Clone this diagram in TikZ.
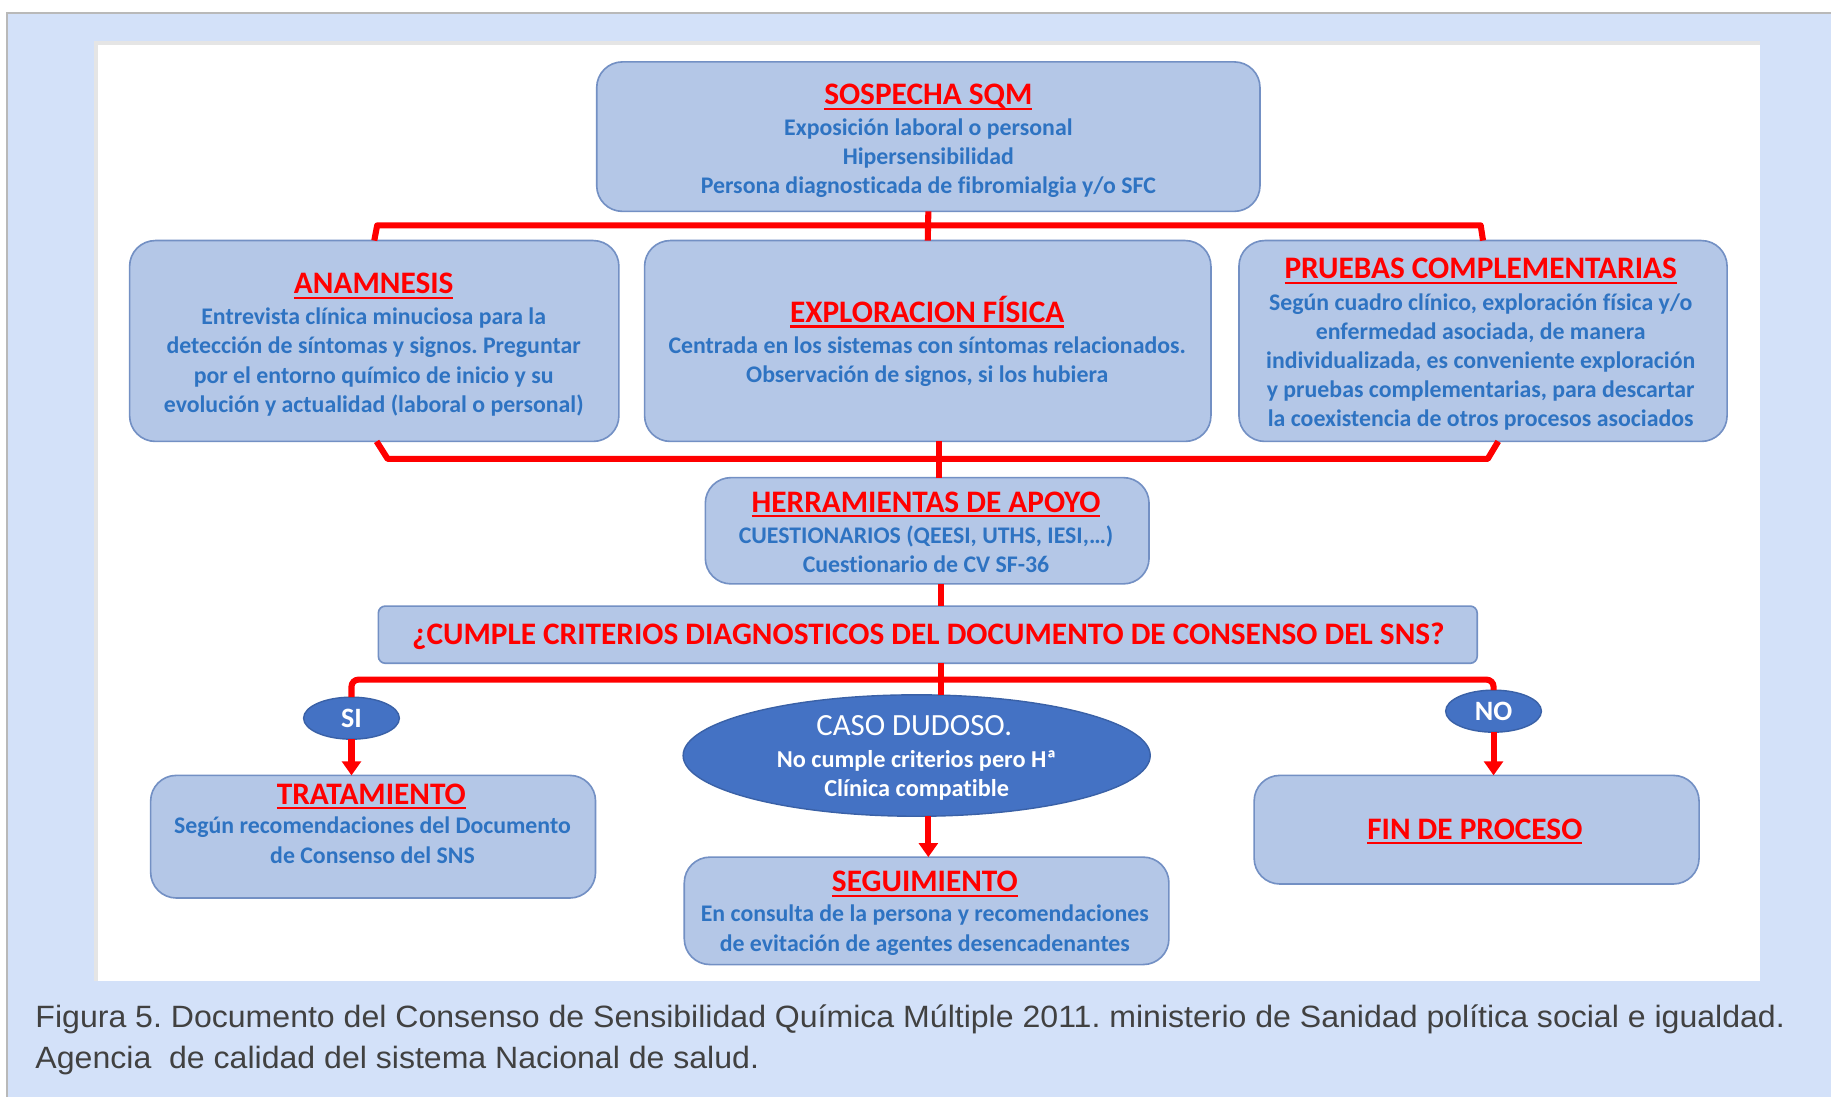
\documentclass[tikz,border=0pt]{standalone}
\usepackage{graphicx}
\usepackage{fontspec}
\setmainfont{Carlito}[Ligatures=NoCommon]
\newfontfamily\capfont{Liberation Sans}
\usetikzlibrary{arrows.meta,shapes.geometric,fit,calc}
\definecolor{bgblue}{HTML}{D3E1F9}
\definecolor{boxfill}{HTML}{B4C7E7}
\definecolor{boxedge}{HTML}{7390C4}
\definecolor{bodyblue}{HTML}{2E73C2}
\definecolor{ttlred}{HTML}{FF0000}
\definecolor{ellfill}{HTML}{4472C4}
\definecolor{capgray}{HTML}{414141}
\frenchspacing
\newcommand\myul[1]{\setbox0\hbox{#1}\rlap{\rule[-2.2pt]{\wd0}{0.9pt}}\box0}
\tikzset{
 box/.style={draw=boxedge, fill=boxfill, line width=0.7pt, rounded corners=11pt, inner sep=0pt, outer sep=0pt},
 ell/.style={ellipse, draw=ellfill!85!black, fill=ellfill, line width=0.6pt, inner sep=0pt, outer sep=0pt},
 ttl/.style={text=ttlred, font=\fontsize{13.4}{15}\selectfont\bfseries, inner sep=0pt},
 body/.style={text=bodyblue, font=\fontsize{10.2}{12.5}\selectfont\bfseries, align=center, inner sep=0pt},
 wtxt/.style={text=white, inner sep=0pt, align=center},
 conn/.style={draw=ttlred, line width=2.6pt},
 arr/.style={conn, -{Triangle[width=8pt,length=6pt]}},
 captxt/.style={text=capgray, font=\capfont\fontsize{13.2}{17.5}\selectfont, anchor=base west, inner sep=0pt},
}
\begin{document}
\begin{tikzpicture}[x=0.5pt,y=-0.5pt]
\useasboundingbox (0,0) rectangle (1568,939);
\fill[white] (0,0) rectangle (1568,939);
\fill[bgblue] (6,11) rectangle (1568,939);
\draw[gray!55, line width=0.8pt] (6,939) -- (6,11) -- (1568,11);
\fill[white] (82,37) rectangle (1507,840);
\draw[gray!20, line width=1.5pt] (82,840) -- (82,37) -- (1507,37);

% boxes
\node[box, fit={(511,53) (1079,181)}] (sos) {};
\node[box, fit={(111,206) (530,378)}] (anam) {};
\node[box, fit={(552,206) (1037,378)}] (expl) {};
\node[box, fit={(1061,206) (1479,378)}] (prue) {};
\node[box, fit={(604,409) (984,500)}] (herr) {};
\node[box, rounded corners=3pt, fit={(324,519) (1265,568)}] (cump) {};
\node[box, fit={(129,664) (510,769)}] (trat) {};
\node[box, fit={(586,734) (1001,826)}] (seg) {};
\node[box, fit={(1074,664) (1455,757)}] (fin) {};
\node[ell, minimum width=41pt, minimum height=18pt, font=\fontsize{12}{12}\selectfont\bfseries, text=white] (si) at (301,615) {SI};
\node[ell, minimum width=41pt, minimum height=18pt, font=\fontsize{12}{12}\selectfont\bfseries, text=white] (no) at (1279,609) {NO};
\node[ell, minimum width=200pt, minimum height=52pt] (caso) at (785,647) {};

% texts
\node[ttl] (t1) at (795,83) {\myul{SOSPECHA SQM}};
\node[body] (b1) at (795,135.5) {Exposición laboral o personal\\Hipersensibilidad\\Persona diagnosticada de fibromialgia y/o SFC};
\node[ttl] (t2) at (320,245) {\myul{ANAMNESIS}};
\node[body] (b2) at (320,310) {Entrevista clínica minuciosa para la\\detección de síntomas y signos. Preguntar\\por el entorno químico de inicio y su\\evolución y actualidad (laboral o personal)};
\node[ttl] (t3) at (794,267) {\myul{EXPLORACION FÍSICA}};
\node[body] (b3) at (794,309.5) {Centrada en los sistemas con síntomas relacionados.\\Observación de signos, si los hubiera};
\node[ttl] (t4) at (1268,232) {\myul{PRUEBAS COMPLEMENTARIAS}};
\node[body] (b4) at (1268,310) {Según cuadro clínico, exploración física y/o\\enfermedad asociada, de manera\\individualizada, es conveniente exploración\\y pruebas complementarias, para descartar\\la coexistencia de otros procesos asociados};
\node[ttl] (t5) at (793,432) {\myul{HERRAMIENTAS DE APOYO}};
\node[body] (b5) at (793,470.5) {CUESTIONARIOS (QEESI, UTHS, IESI,…)\\Cuestionario de CV SF-36};
\node[ttl] (t6) at (795,545) {¿CUMPLE CRITERIOS DIAGNOSTICOS DEL DOCUMENTO DE CONSENSO DEL SNS?};
\node[wtxt, font=\fontsize{13.2}{14}\selectfont] (t7) at (783,621) {CASO DUDOSO.};
\node[wtxt, font=\fontsize{10.4}{12.5}\selectfont\bfseries] (b7) at (785,664) {No cumple criterios pero Hª\\Clínica compatible};
\node[ttl] (t8) at (318,682) {\myul{TRATAMIENTO}};
\node[body] (b8) at (319,719.5) {Según recomendaciones del Documento\\de Consenso del SNS};
\node[ttl] (t9) at (792,757) {\myul{SEGUIMIENTO}};
\node[body] (b9) at (792,796.5) {En consulta de la persona y recomendaciones\\de evitación de agentes desencadenantes};
\node[ttl] (t10) at (1263,712) {\myul{FIN DE PROCESO}};

% helper coordinates
\coordinate (bt1) at (323,193);
\coordinate (bt2) at (1268,193);
\coordinate (bb1) at (332,393);
\coordinate (bb2) at (1274,393);
\coordinate (x804) at (804,0);
\coordinate (x806) at (806,0);
\coordinate (x795) at (795,0);
\coordinate (bus3) at (806,582);

% connectors
\draw[conn] (sos.south) -- (expl.north);
\draw[conn, line join=round] (anam.north) -- (bt1) -- (bt2) -- (prue.north);
\draw[conn, line join=round] ([xshift=1pt]anam.south) -- (bb1) -- (bb2) -- ([xshift=6.5pt]prue.south);
\draw[conn] (expl.south -| x804) -- (herr.north -| x804);
\draw[conn] (herr.south -| x806) -- (cump.north -| x806);
\draw[conn] (cump.south -| x806) -- (caso.north -| x806);
\draw[conn, rounded corners=3pt] (si.north) |- (bus3) -| (no.north);
\draw[arr] (si.south) -- (trat.north -| si.south);
\draw[arr] (no.south) -- (fin.north -| no.south);
\draw[arr] (caso.south -| x795) -- (seg.north -| x795);

% caption
\node[captxt] (c1) at (30,880) {\scalebox{1.04}[1]{Figura 5. Documento del Consenso de Sensibilidad Química Múltiple 2011. ministerio de Sanidad política social e igualdad.}};
\node[captxt] (c2) at (30,915) {\scalebox{1.04}[1]{Agencia\ \ de calidad del sistema Nacional de salud.}};
\end{tikzpicture}
\end{document}
